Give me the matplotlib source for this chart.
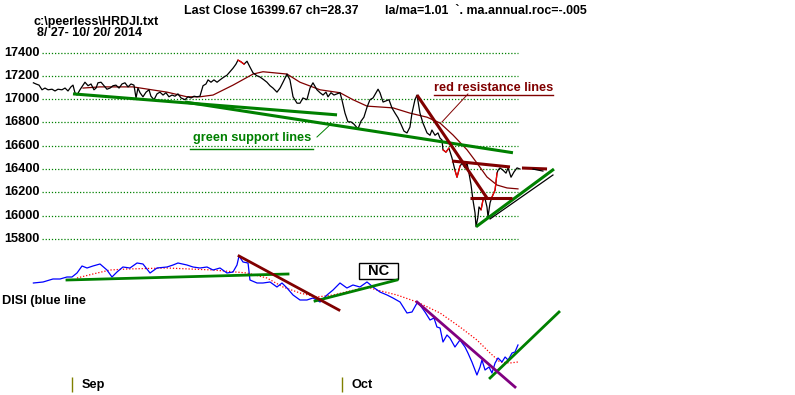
import numpy as np
import matplotlib
matplotlib.use("Agg")
import matplotlib.pyplot as plt
from matplotlib.patches import Rectangle

plt.rcParams['font.family'] = ['Liberation Sans', 'DejaVu Sans']
plt.rcParams['font.weight'] = 'bold'

# --- hourly DJI closes, x = trading day since 8/27 (Sep 2 = 3, Oct 1 = 24)
day = [0.00, 0.20, 0.44, 0.67, 0.90, 1.14, 1.45, 1.68, 1.91, 2.22, 2.46, 2.69, 2.92, 3.08, 3.23,
       3.39, 3.62, 3.86, 4.01, 4.25, 4.48, 4.71, 4.87, 5.02, 5.26, 5.49, 5.72, 5.96, 6.19, 6.42,
       6.66, 6.89, 7.12, 7.36, 7.59, 7.82, 7.98, 8.13, 8.29, 8.52, 8.76, 8.99, 9.14, 9.38, 9.61,
       9.84, 10.08, 10.31, 10.54, 10.78, 11.01, 11.24, 11.48, 11.79, 12.02, 12.26, 12.49, 12.72, 12.95, 13.19,
       13.42, 13.58, 13.81, 14.04, 14.28, 14.51, 14.82, 15.05, 15.29, 15.52, 15.75, 15.91, 16.14, 16.38, 16.61,
       16.84, 17.08, 17.39, 17.62, 17.93, 18.16, 18.40, 18.63, 18.94, 19.18, 19.41, 19.72, 19.95, 20.19, 20.50,
       20.73, 20.96, 21.27, 21.51, 21.74, 22.05, 22.29, 22.52, 22.75, 22.91, 23.14, 23.37, 23.61, 23.84, 23.99,
       24.23, 24.46, 24.69, 24.93, 25.24, 25.47, 25.70, 25.94, 26.17, 26.41, 26.64, 26.80, 26.95, 27.19, 27.42,
       27.65, 27.88, 28.12, 28.35, 28.58, 28.82, 29.05, 29.28, 29.44, 29.67, 29.83, 30.06, 30.29, 30.61, 30.84,
       30.99, 31.23, 31.46, 31.62, 31.77, 31.85, 32.08, 32.31, 32.55, 32.78, 32.94, 33.17, 33.33, 33.56, 33.72,
       33.87, 34.03, 34.18, 34.34, 34.42, 34.57, 34.65, 34.81, 34.96, 35.12, 35.27, 35.35, 35.51, 35.66, 35.90,
       36.05, 36.13, 36.28, 36.52, 36.75, 36.91, 37.14, 37.37, 37.61, 37.84]
close = [17140, 17130, 17120, 17080, 17095, 17080, 17085, 17070, 17085, 17080, 17095, 17070, 17105, 17120, 17055,
         17035, 17080, 17120, 17145, 17115, 17130, 17080, 17095, 17140, 17145, 17115, 17085, 17095, 17115, 17120,
         17095, 17130, 17140, 17105, 17130, 17120, 17010, 17095, 17055, 17020, 17060, 17080, 17025, 16995, 17045,
         17060, 17035, 17055, 17020, 17035, 17025, 17045, 17010, 16995, 17020, 17010, 17025, 17020, 17025, 17115,
         17130, 17165, 17145, 17165, 17145, 17165, 17190, 17205, 17235, 17265, 17300, 17335, 17320, 17300, 17325,
         17275, 17225, 17200, 17190, 17165, 17145, 17115, 17095, 17060, 17095, 17145, 17215, 17165, 17020, 16965,
         16965, 17010, 16995, 17095, 17140, 17080, 17055, 17035, 17060, 17020, 17055, 17035, 17045, 17055, 16995,
         16880, 16805, 16805, 16785, 16745, 16810, 16845, 16930, 16995, 17010, 17055, 17085, 17055, 16975, 16985,
         16995, 16925, 16880, 16840, 16785, 16725, 16710, 16760, 16880, 16995, 17035, 16880, 16795, 16710, 16690,
         16735, 16690, 16710, 16665, 16650, 16565, 16545, 16580, 16495, 16390, 16330, 16425, 16450, 16410, 16450,
         16365, 16265, 16135, 16025, 15905, 15990, 16075, 16050, 16135, 16145, 16075, 15990, 16110, 16160, 16220,
         16365, 16390, 16410, 16390, 16365, 16410, 16330, 16375, 16410, 16400]
red_bars = [(71, 73), (140, 142), (144, 146), (157, 159), (163, 165)]

ma_day = [3.86, 5.18, 7.74, 10.39, 11.94, 12.95, 13.97, 15.52, 17.08, 17.85, 19.72, 20.73, 22.29, 23.84,
          24.85, 25.94, 27.96, 29.28, 30.61, 31.62, 32.63, 33.72, 34.49, 35.27, 36.05, 36.83, 37.68]
ma = [17095, 17105, 17105, 17060, 17020, 17020, 17035, 17120, 17215, 17235, 17215, 17145, 17080, 17055,
      16995, 16940, 16925, 16880, 16845, 16795, 16692, 16565, 16452, 16332, 16263, 16238, 16230]

price_ticks = [17400, 17200, 17000, 16800, 16600, 16400, 16200, 16000, 15800]

support_lines = [((3.08, 17045), (23.61, 16865)),
                 ((11.79, 16975), (37.29, 16540)),
                 ((34.42, 15905), (40.48, 16400))]
resist_lines = [((29.83, 17035), (35.27, 16152)),
                ((32.55, 16469), (37.06, 16418)),
                ((37.99, 16409), (39.94, 16401)),
                ((33.95, 16152), (37.22, 16152))]
black_lines = [((35.51, 15972), (40.40, 16349)),
               ((38.85, 16400), (39.62, 16383))]

# --- DISI (arbitrary units)
disi_day = [0.00, 0.75, 1.52, 2.07, 2.61, 3.00, 3.39, 3.78, 4.17, 4.63, 5.18, 5.72, 6.11, 6.50, 6.96,
            7.51, 8.06, 8.52, 9.07, 9.61, 10.39, 10.86, 11.24, 11.94, 12.41, 12.95, 13.50, 13.97, 14.51, 15.05,
            15.52, 15.83, 15.99, 16.30, 16.69, 16.84, 17.39, 17.85, 18.40, 18.94, 19.33, 19.72, 20.19, 20.73, 21.27,
            21.74, 22.29, 22.83, 23.30, 23.84, 24.38, 24.85, 25.39, 25.94, 26.41, 26.95, 27.50, 27.96, 28.51, 29.05,
            29.44, 29.83, 30.06, 30.45, 30.84, 31.15, 31.38, 31.62, 31.85, 32.16, 32.39, 32.78, 33.17, 33.56, 33.79,
            34.10, 34.49, 34.73, 34.88, 35.12, 35.43, 35.66, 35.90, 36.13, 36.44, 36.68, 36.91, 37.22, 37.45, 37.68]
disi = [117, 118, 121, 121, 123, 123, 127, 134, 132, 134, 136, 130, 123, 128, 133,
        132, 137, 136, 127, 132, 133, 135, 137, 135, 133, 132, 133, 130, 132, 127,
        128, 135, 144, 138, 137, 120, 117, 117, 118, 113, 117, 112, 105, 100, 100,
        102, 98, 105, 110, 117, 112, 115, 113, 118, 113, 108, 105, 102, 98, 87,
        88, 97, 95, 88, 80, 82, 73, 72, 58, 65, 62, 53, 60, 53, 47,
        38, 25, 33, 40, 30, 33, 27, 37, 42, 38, 43, 40, 47, 48, 55]
disi_ma_day = [3.39, 4.63, 5.96, 7.28, 10.39, 13.97, 16.61, 18.16, 19.41, 20.73, 22.05, 23.30, 24.62, 25.94,
               26.72, 28.27, 29.83, 31.62, 33.17, 34.49, 35.51, 36.28, 37.06, 37.68]
disi_ma = [122, 126, 130, 131, 132, 130, 127, 122, 113, 107, 103, 105, 109, 113,
           110, 105, 98, 87, 73, 60, 47, 38, 37, 38]

disi_green = [((2.61, 120), (19.80, 126)), ((21.90, 99), (28.27, 120)), ((35.51, 22), (40.87, 88))]
disi_maroon = [((15.99, 144), (23.76, 90))]
disi_purple = [((29.83, 98), (37.45, 13))]

month_days = [3, 24]
month_names = ['Sep', 'Oct']

GREEN = '#008000'
MAROON = '#800000'

fig = plt.figure(figsize=(7.95, 3.95), dpi=100)
ax = fig.add_axes([0, 0, 1, 1])
px_day = 12.86
ax.set_xlim(-33.4 / px_day, (795 - 33.4) / px_day)
ax.set_ylim(14461.7, 17850.4)
ax.axis('off')

ax.hlines(price_ticks, 0.67, 37.68, colors=GREEN, linestyles=(0, (1, 1.5)), linewidth=0.9)
for p in price_ticks:
    ax.text(0.5, p, str(p), ha='right', va='center', fontsize=9.2, color='black')

ax.plot(ma_day, ma, color=MAROON, lw=0.9)
ax.plot(day, close, color='black', lw=0.9)
for a, b in red_bars:
    ax.plot(day[a:b + 1], close[a:b + 1], color='red', lw=0.9)

for (x0, y0), (x1, y1) in support_lines:
    ax.plot([x0, x1], [y0, y1], color=GREEN, lw=2.2, solid_capstyle='butt')
for (x0, y0), (x1, y1) in resist_lines:
    ax.plot([x0, x1], [y0, y1], color=MAROON, lw=2.2, solid_capstyle='butt')
for (x0, y0), (x1, y1) in black_lines:
    ax.plot([x0, x1], [y0, y1], color='black', lw=0.9)

# labels for the trendlines
ax.text(31.18, 17095, 'red resistance lines', color=MAROON, fontsize=9.2, va='center')
ax.plot([31.18, 40.40], [17035, 17035], color=MAROON, lw=1.0)
ax.plot([33.79, 31.77], [17044, 16804], color=MAROON, lw=0.7)
ax.text(12.41, 16667, 'green support lines', color=GREEN, fontsize=9.2, va='center')
ax.plot([12.18, 21.74], [16572, 16572], color=GREEN, lw=1.0)
ax.plot([22.05, 23.14], [16675, 16787], color=GREEN, lw=0.7)

ax2 = ax.twinx()
ax2.set_ylim(5, 400)
ax2.axis('off')
ax2.plot(disi_ma_day, disi_ma, color='red', lw=0.9, linestyle=(0, (1, 1.5)))
ax2.plot(disi_day, disi, color='blue', lw=0.9)
for (x0, y0), (x1, y1) in disi_green:
    ax2.plot([x0, x1], [y0, y1], color=GREEN, lw=2.0)
for (x0, y0), (x1, y1) in disi_maroon:
    ax2.plot([x0, x1], [y0, y1], color=MAROON, lw=2.0)
for (x0, y0), (x1, y1) in disi_purple:
    ax2.plot([x0, x1], [y0, y1], color='#800080', lw=2.0)

ax2.add_patch(Rectangle((25.32, 121), 3.03, 16, fc='white', ec='black', lw=1.0))
ax2.text(26.84, 129, 'NC', ha='center', va='center', fontsize=10.5)

ax2.vlines(month_days, 8, 23, colors='#808000', lw=1.0)
for d, name in zip(month_days, month_names):
    ax2.text(d + 0.75, 15, name, ha='left', va='center', fontsize=9.2)

fig.text(184 / 795, 1 - 11 / 395, 'Last Close 16399.67 ch=28.37', fontsize=8.9, va='center')
fig.text(385 / 795, 1 - 11 / 395, 'la/ma=1.01  `. ma.annual.roc=-.005', fontsize=8.9, va='center')
fig.text(33 / 795, 1 - 22 / 395, 'c:\\peerless\\HRDJI.txt', fontsize=9.0, va='center')
fig.text(37 / 795, 1 - 33 / 395, '8/ 27- 10/ 20/ 2014', fontsize=9.0, va='center')
fig.text(2 / 795, 1 - 301 / 395, 'DISI (blue line', fontsize=9.2, va='center')

fig.savefig('out.png', dpi=100)
